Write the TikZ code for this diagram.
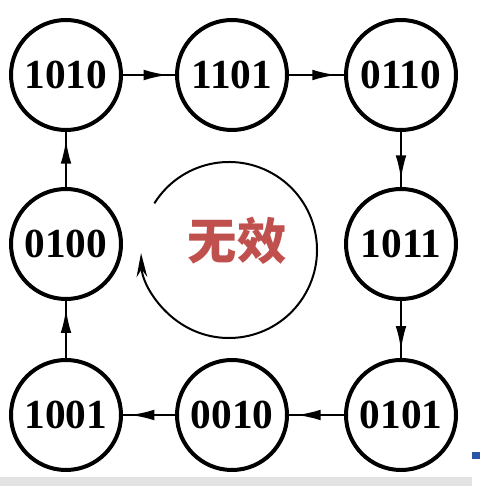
\documentclass[tikz,border=0pt]{standalone}
\usepackage{fontspec}
\setmainfont{Liberation Serif}
\newfontfamily\cjkfont{Noto Sans CJK SC}
\usetikzlibrary{arrows.meta,decorations.markings}
\definecolor{wxred}{HTML}{C0504D}
\definecolor{barblue}{HTML}{2A55A8}
\def\statefont{\fontsize{31}{31}\selectfont\bfseries}
\def\wxfont{\cjkfont\fontsize{37}{37}\selectfont\bfseries}

\begin{document}
\begin{tikzpicture}[x=0.75pt,y=0.75pt,
    state/.style={circle,draw,line width=3pt,minimum size=82.5pt,inner sep=0pt,font=\statefont},
    flow/.style={line width=1.5pt,postaction={decorate},
      decoration={markings,mark=at position 0.86 with {\arrow{Latex[length=18pt,width=8pt]}}}}]
    \useasboundingbox (0,0) rectangle (480,486);
    \fill[gray!22] (0,0) rectangle (472,9);
    \fill[barblue] (472,27) rectangle (480,34);
    % states
    \node[state] (s1010) at ( 66,411) {1010};
    \node[state] (s1101) at (232,411) {1101};
    \node[state] (s0110) at (401,411) {0110};
    \node[state] (s1011) at (401,242) {1011};
    \node[state] (s0101) at (401, 71) {0101};
    \node[state] (s0010) at (232, 71) {0010};
    \node[state] (s1001) at ( 66, 71) {1001};
    \node[state] (s0100) at ( 66,242) {0100};
    \foreach \a/\b in {s1010/s1101,s1101/s0110,s0110/s1011,s1011/s0101,
                       s0101/s0010,s0010/s1001,s1001/s0100,s0100/s1010}
        \draw[flow] (\a) -- (\b);
    % invalid loop
    \coordinate (mid) at (229,236);
    \draw[line width=1.5pt,-{Stealth[length=18pt,width=8pt]}]
        ([shift={(148:66pt)}]mid) arc[start angle=148,end angle=-178,radius=66pt];
    \node[text=wxred,font=\wxfont] (wx) at (237,245) {无效};
\end{tikzpicture}
\end{document}
